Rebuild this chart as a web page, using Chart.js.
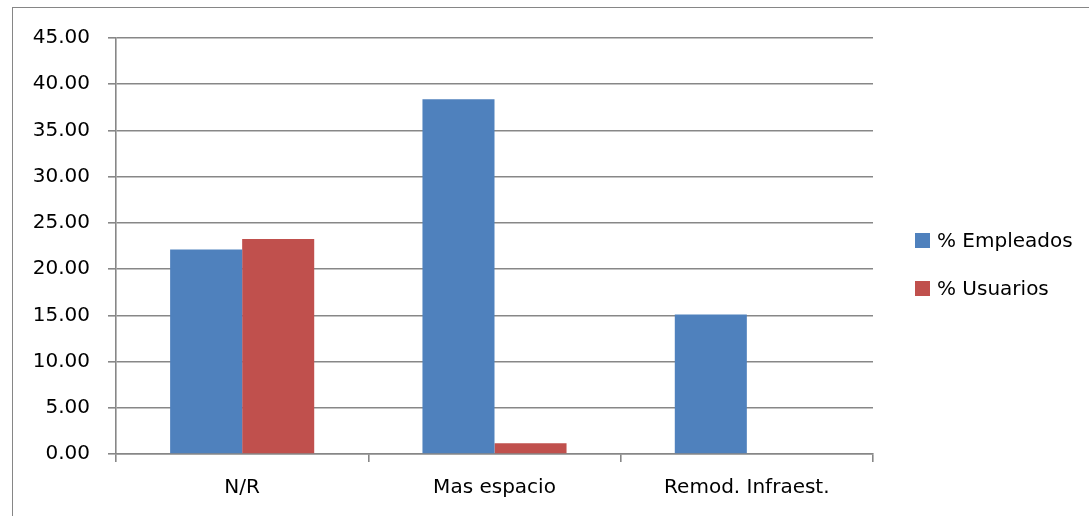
<!DOCTYPE html>
<html>
<head>
<meta charset="utf-8">
<script src="https://cdn.jsdelivr.net/npm/chart.js@4.4.1/dist/chart.umd.min.js"></script>
<style>
  html, body { margin: 0; padding: 0; background: #fff; }
  #wrap { position: relative; width: 1089px; height: 516px; overflow: hidden; }
  #frame { position: absolute; left: 12px; top: 7px; width: 1100px; height: 530px; border: 1px solid #868686; }
  #legend { position: absolute; left: 915px; top: 226px; font-family: "DejaVu Sans", sans-serif; font-size: 20px; color: #000; }
  .item { display: flex; align-items: center; height: 28px; margin-bottom: 20px; }
  .box { width: 15px; height: 15px; margin-right: 7px; }
</style>
</head>
<body>
<div id="wrap">
  <div id="frame"></div>
  <canvas id="chart" width="1089" height="516"></canvas>
  <div id="legend"></div>
</div>
<script>
// datos
const categorias = ['N/R', 'Mas espacio', 'Remod. Infraest.'];
const empleados = [22.11, 38.37, 15.08];
const usuarios = [23.26, 1.16, 0];
const series = [
  { label: '% Empleados', data: empleados, color: '#4F81BD' },
  { label: '% Usuarios', data: usuarios, color: '#C0504D' },
];

const gris = '#878787';
const fuente = { family: 'DejaVu Sans', size: 20 };

const ctx = document.getElementById('chart');
new Chart(ctx, {
  type: 'bar',
  data: {
    labels: categorias,
    datasets: series.map(s => ({
      label: s.label,
      data: s.data,
      backgroundColor: s.color,
      borderWidth: 0,
      barPercentage: 1,
      categoryPercentage: 0.571,
    })),
  },
  options: {
    responsive: false,
    animation: false,
    layout: { padding: { left: 13, top: 38, right: 216, bottom: 0 } },
    plugins: { legend: { display: false }, tooltip: { enabled: false } },
    scales: {
      x: {
        grid: { drawOnChartArea: false, drawTicks: true, tickLength: 8, color: gris, lineWidth: 1.6 },
        border: { color: gris, width: 1.6 },
        ticks: { color: '#000', font: fuente, padding: 14 },
        afterFit: s => { s.height = 62; },
      },
      y: {
        min: 0,
        max: 45,
        grid: { color: gris, tickLength: 8, lineWidth: 1.6 },
        border: { color: gris, width: 1.6 },
        ticks: {
          stepSize: 5,
          color: '#000',
          font: fuente,
          padding: 18,
          callback: v => v.toFixed(2),
        },
        afterFit: s => { s.width = 103; },
      },
    },
  },
});

// leyenda a la derecha
const leg = document.getElementById('legend');
series.forEach(s => {
  const row = document.createElement('div');
  row.className = 'item';
  row.innerHTML = '<span class="box" style="background:' + s.color + '"></span><span>' + s.label + '</span>';
  leg.appendChild(row);
});
</script>
</body>
</html>
